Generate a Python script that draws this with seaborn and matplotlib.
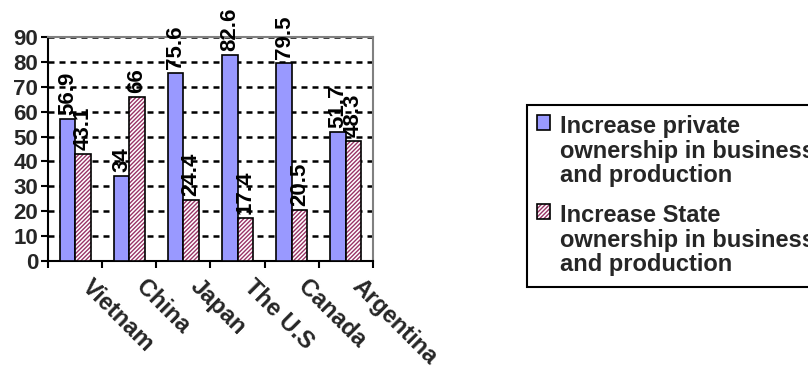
import matplotlib
matplotlib.use("Agg")
import matplotlib.pyplot as plt
import matplotlib.transforms as mtransforms
from matplotlib.colors import to_rgba
import seaborn as sns
import pandas as pd

countries = ["Vietnam", "China", "Japan", "The U.S", "Canada", "Argentina"]
private_share = [56.9, 34, 75.6, 82.6, 79.5, 51.7]
state_share = [43.1, 66, 24.4, 17.4, 20.5, 48.3]
series_names = [
    "Increase private\nownership in business\nand production",
    "Increase State\nownership in business\nand production",
]
y_ticks = [0, 10, 20, 30, 40, 50, 60, 70, 80, 90]

sns.set_theme(style="white")
plt.rcParams["font.family"] = ["Liberation Sans", "DejaVu Sans"]
plt.rcParams["font.weight"] = "bold"
plt.rcParams["hatch.linewidth"] = 1.0

df = pd.DataFrame({
    "country": countries * 2,
    "value": private_share + state_share,
    "series": [series_names[0]] * len(countries) + [series_names[1]] * len(countries),
})

fig = plt.figure(figsize=(8.08, 3.69), dpi=100)
ax = fig.add_axes([0.0594, 0.2927, 0.4022, 0.607])

sns.barplot(
    data=df, x="country", y="value", hue="series", order=countries,
    hue_order=series_names, palette=["#9999FF", "#FFFFFF"],
    width=0.57, saturation=1, edgecolor="black", linewidth=1.2,
    legend=False, ax=ax, zorder=3,
)

# State-ownership bars: white base with fine plum diagonal hatching
for p in ax.containers[1]:
    p.set_hatch("////////")
    p._hatch_color = to_rgba("#993366")

# Rotated value labels on top of each bar
for cont in ax.containers:
    ax.bar_label(cont, fmt="%g", rotation=90, padding=3,
                 fontsize=16, fontweight="bold", color="black", clip_on=False)

ax.set_xlim(-0.5, len(countries) - 0.5)
ax.set_ylim(0, 90)
ax.set_yticks(y_ticks)
ax.set_yticklabels([str(v) for v in y_ticks], fontsize=16, fontweight="bold")
ax.set_xlabel("")
ax.set_ylabel("")

# Ticks between categories, labels at category centres
ax.set_xticks([i - 0.5 for i in range(len(countries) + 1)])
ax.set_xticklabels([])
ax.set_xticks(range(len(countries)), minor=True)
ax.set_xticklabels(countries, minor=True, fontsize=17, fontweight="bold",
                   rotation=-45, ha="left", va="center", rotation_mode="anchor")
ax.tick_params(axis="x", which="major", direction="out", length=5, width=1.5,
               color="black", bottom=True)
ax.tick_params(axis="x", which="minor", length=0, pad=16, bottom=True)
ax.tick_params(axis="y", direction="out", length=5, width=1.5, color="black",
               left=True, pad=2)
shift = mtransforms.ScaledTranslation(10 / 100, 0, fig.dpi_scale_trans)
for lab in ax.get_xticklabels(minor=True):
    lab.set_transform(lab.get_transform() + shift)

ax.yaxis.grid(True, color="black", linestyle=(0, (2.4, 2.0)), linewidth=1.8)
ax.xaxis.grid(False)
ax.set_axisbelow(True)

for side in ("left", "bottom"):
    ax.spines[side].set_color("black")
    ax.spines[side].set_linewidth(1.5)
for side in ("top", "right"):
    ax.spines[side].set_color("#808080")
    ax.spines[side].set_linewidth(1.5)
    ax.spines[side].set_visible(True)

handles = [ax.containers[0][0], ax.containers[1][0]]
leg = fig.legend(
    handles, series_names, loc="upper left", bbox_to_anchor=(0.652, 0.716),
    frameon=True, fancybox=False, shadow=False, framealpha=1,
    edgecolor="black", prop={"weight": "bold", "size": 17},
    handlelength=0.55, handleheight=0.55, handletextpad=0.4,
    borderpad=0.45, labelspacing=0.72, borderaxespad=0,
)
leg.get_frame().set_linewidth(1.5)
for t in leg.get_texts():
    t.set_linespacing(1.08)
for col in leg._legend_handle_box.get_children():
    for item in col.get_children():
        item.align = "top"

fig.savefig("out.png", dpi=100)
